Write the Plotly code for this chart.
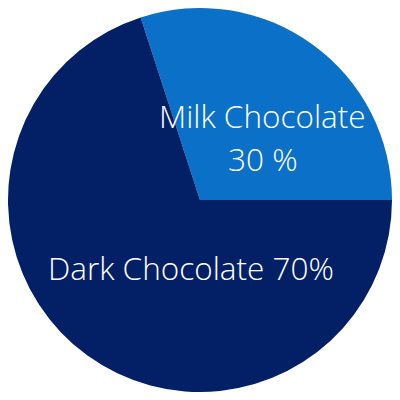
import plotly.graph_objects as go

labels = ["Milk Chocolate", "Dark Chocolate"]
values = [30, 70]
colors = ["#0A70C8", "#032066"]

fig = go.Figure(go.Pie(
    labels=labels,
    values=values,
    marker=dict(colors=colors, line=dict(width=0)),
    sort=False,
    direction="clockwise",
    rotation=-18,
    textinfo="none",
    hoverinfo="label+percent",
    showlegend=False,
))

font = dict(family="Open Sans, sans-serif", size=31.5, color="white", weight=300)
fig.update_layout(
    width=392, height=392,
    margin=dict(l=0, r=8, t=0, b=8),
    paper_bgcolor="white",
    plot_bgcolor="white",
    annotations=[
        dict(text=labels[0], x=0.664, y=0.72, xref="paper", yref="paper",
             showarrow=False, font=font, xanchor="center", yanchor="middle"),
        dict(text=f"{values[0]} %", x=0.664, y=0.608, xref="paper", yref="paper",
             showarrow=False, font=font, xanchor="center", yanchor="middle"),
        dict(text=f"{labels[1]} {values[1]}%", x=0.477, y=0.323, xref="paper", yref="paper",
             showarrow=False, font=font, xanchor="center", yanchor="middle"),
    ],
)

fig.write_html("out.html")
